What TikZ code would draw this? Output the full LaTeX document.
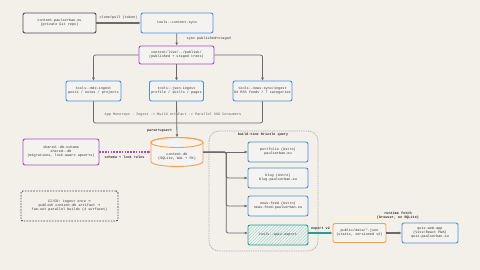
\documentclass[tikz,border=0pt]{standalone}
\usepackage{fontspec}
\setmonofont{Liberation Mono}
\newfontfamily\symfont{DejaVu Sans}
\usetikzlibrary{shapes.geometric,patterns.meta,arrows.meta}
\definecolor{bg}{HTML}{F3EFE9}
\definecolor{nfill}{HTML}{F5F3F0}
\definecolor{ink}{HTML}{333333}
\definecolor{edge}{HTML}{6A6A6A}
\definecolor{bluec}{HTML}{4A8EE0}
\definecolor{purp}{HTML}{A54CC8}
\definecolor{oran}{HTML}{F5A04F}
\definecolor{teal2}{HTML}{2A9D8F}
\definecolor{grayb}{HTML}{4D4D4D}
\tikzset{
  box/.style={draw, rounded corners=2pt, line width=0.9pt, inner sep=1pt, align=center, fill=nfill, text=ink},
  neutral/.style={box, draw=grayb},
  bluebox/.style={box, draw=bluec},
  purpbox/.style={box, draw=purp},
  orabox/.style={box, draw=oran},
  conn/.style={draw=edge, line width=0.8pt, rounded corners=2pt, -{Latex[length=3pt,width=3pt]}},
  thickconn/.style={conn, line width=1.5pt},
  lbl/.style={font=\ttfamily\bfseries\fontsize{3.5}{4}\selectfont, text=ink, inner sep=0.5pt, align=center},
}
\begin{document}
\begin{tikzpicture}[x=1pt,y=-1pt, font=\ttfamily\fontsize{3.5}{4}\selectfont]
\useasboundingbox[fill=bg] (0,0) rectangle (480,270);

% group
\draw[draw=gray!60, line width=0.8pt, dash pattern=on 1pt off 0.8pt, rounded corners=10pt] (209,131) rectangle (318,251);
\node[lbl] (grp) at (263,135) {build-time Drizzle query};

\node[neutral, minimum width=73pt, minimum height=20pt] (repo) at (59.5,23) {content.paulserban.eu\\(private Git repo)};
\node[bluebox, minimum width=72pt, minimum height=20pt] (sync) at (177,23) {tools--content-sync};
\node[purpbox, minimum width=75pt, minimum height=18pt] (live) at (176.5,55) {content/live/../publish/\\(published + staged trees)};

\node[bluebox, minimum width=55pt, minimum height=20pt] (mdx) at (93.5,91) {tools--mdx-ingest\\posts / notes / projects};
\node[bluebox, minimum width=54pt, minimum height=20pt] (json) at (176.5,91) {tools--json-ingest\\profile / skills / pages};
\node[bluebox, minimum width=59pt, minimum height=20pt] (news) at (262.5,91) {tools--news-sync/ingest\\84 RSS feeds / 7 categories};

% database cylinder
\node[minimum width=52pt, minimum height=29pt, inner sep=0pt] (db) at (177,152) {};
\filldraw[fill=nfill, draw=oran, line width=0.9pt] (151,142.5) -- (151,161.5) arc[start angle=180, end angle=0, x radius=26, y radius=5] -- (203,142.5) arc[start angle=0, end angle=-180, x radius=26, y radius=5] -- cycle;
\draw[draw=oran, line width=0.9pt] (177,142.5) ellipse[x radius=26, y radius=5];
\node[text=ink, align=center, inner sep=0pt] (dbt) at (177,156.5) {content.db\\(SQLite, WAL + FK)};

\node[purpbox, minimum width=76pt, minimum height=26pt] (shared) at (61,152) {shared--db-schema\\shared--db\\(migrations, lock-aware upserts)};

\node[box, draw=grayb, dash pattern=on 1.6pt off 1.2pt, fill=bg, minimum width=97pt, minimum height=30pt] (cicd) at (69.5,206) {CI/CD: ingest once {\symfont →}\\publish content-db artifact {\symfont →}\\fan-out parallel builds (4 surfaces)};

\node[bluebox, minimum width=60pt, minimum height=20pt] (port) at (278,152) {portfolio (Astro)\\paulserban.eu};
\node[bluebox, minimum width=60pt, minimum height=20pt] (blog) at (278,178) {blog (Astro)\\blog.paulserban.eu};
\node[bluebox, minimum width=60pt, minimum height=20pt] (nfeed) at (278,206) {news-feed (Astro)\\news-feed.paulserban.eu};
\node[box, draw=teal2, preaction={fill=nfill}, pattern={Lines[angle=45,distance=2.2pt,line width=0.5pt]}, pattern color=teal2!45, minimum width=60pt, minimum height=20pt] (quiz) at (278,235) {tools--quiz-export};

\node[orabox, minimum width=53pt, minimum height=19pt] (pub) at (359.5,233) {public/data/*.json\\(static, versioned v2)};
\node[bluebox, minimum width=56pt, minimum height=20pt] (web) at (430,233) {quiz-web-app\\(Vite/React PWA)\\quiz.paulserban.eu};

% connectors
\draw[thickconn] (repo) -- (sync) node[lbl, midway, above=3pt, font=\ttfamily\fontsize{3.5}{4}\selectfont] (l1) {clone/pull (token)};
\draw[conn] (sync) -- (live);
\node[lbl, anchor=west, font=\ttfamily\fontsize{3.5}{4}\selectfont] (l2) at (186,39) {sync published+staged};
\draw[conn] (live.west) -| (mdx.north);
\draw[conn] (live) -- (json);
\draw[conn] (live.east) -| (news.north);

\coordinate (merge) at (176.5,123);
\draw[draw=edge, line width=0.8pt, rounded corners=2pt] (mdx.south) |- (merge);
\draw[draw=edge, line width=0.8pt, rounded corners=2pt] (news.south) |- (merge);
\draw[conn] (json.south) -- (db.north);
\node[lbl, text=ink!80, font=\ttfamily\fontsize{3.5}{4}\selectfont] (l3) at (173,115) {App Monorepo - Ingest -> Build Artifact -> Parallel SSG Consumers};
\node[lbl, anchor=east] (l4) at (173,130.5) {parse+upsert};

\draw[draw=purp, line width=1.2pt, dash pattern=on 1.6pt off 1.2pt, -{Latex[length=3pt,width=3pt]}] (shared.east) -- (db.west |- shared.east);
\node[lbl] (l5) at (124.5,157) {schema + lock rules};

\draw[conn] (db.east) -- (port.west);
\draw[conn] (db.east) -- ++(23,0) |- (blog.west);
\draw[conn] (db.east) -- ++(23,0) |- (nfeed.west);
\draw[conn] (db.east) -- ++(23,0) |- (quiz.west |- pub.west);

\draw[thickconn, draw=teal2, -{Latex[length=3pt,width=3pt]}] (quiz.east |- pub.west) -- (pub.west);
\node[lbl] (l6) at (320.5,228.5) {export v2};
\draw[thickconn] (pub.east) -- (web.west);
\node[lbl] (l7) at (398,215.5) {runtime fetch\\(browser, no SQLite)};
\end{tikzpicture}
\end{document}
